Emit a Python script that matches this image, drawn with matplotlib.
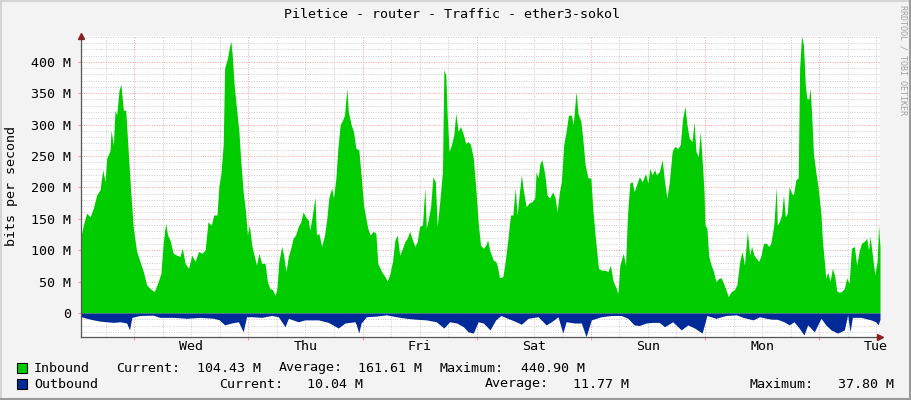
import matplotlib
matplotlib.use("Agg")
import matplotlib.pyplot as plt
import numpy as np
from matplotlib.lines import Line2D
from matplotlib.patches import Rectangle

# traffic, hours since start of window, Mbit/s
in_hours = [0, 0.49, 1.19, 1.9, 2.6, 3.3, 4.0, 4.57, 5.06, 5.4, 6.1, 6.32, 6.8, 7.16, 7.5, 8.0, 8.4, 8.9, 9.4, 9.97,
            10.46, 11.0, 11.7, 12.4, 13.1, 13.8, 14.5, 15.4, 16.1, 16.8, 17.3, 17.8, 18.2, 18.7, 19.4, 20.1, 20.8, 21.3,
            21.9, 22.6, 23.3, 24.0, 24.7, 25.4, 26.1, 26.7, 27.4, 27.9, 28.6, 29.0,
            29.4, 29.9, 30.2, 30.8, 31.3, 31.5, 31.8, 32.2, 32.7, 33.2, 33.6, 34.1, 34.6, 35.0, 35.4, 35.9, 36.4, 36.9,
            37.4, 38.0, 38.7, 39.2, 39.7, 40.3, 40.8, 41.2, 41.6, 42.2, 42.6, 43.1, 43.6, 44.1, 44.6, 45.1, 45.7, 46.2,
            46.7, 47.2, 47.8, 48.1, 48.6, 49.2, 49.5, 50.0, 50.6, 51.2, 51.7, 52.1, 52.7, 53.1, 53.6, 54.0, 54.5, 55.0,
            55.4, 55.9, 56.2, 56.8, 57.3, 57.8,
            58.4, 58.9, 59.4, 59.9, 60.3, 60.8, 61.4, 62.0, 62.4, 63.2, 63.9, 64.4, 64.9, 65.5, 66.0, 66.5, 67.0, 67.6,
            68.1, 68.6, 69.1, 69.7, 70.2, 70.7, 71.2, 71.8, 72.3, 72.6, 73.0, 73.5, 74.0, 74.5, 74.9, 75.4, 76.0, 76.3,
            76.7, 77.0, 77.4, 77.9, 78.4, 78.8, 79.3, 79.8, 80.4, 80.9, 81.4, 81.9, 82.5, 83.0, 83.5, 84.0, 84.6, 85.1,
            85.5, 86.0, 86.7,
            87.2, 87.5, 88.0, 88.7, 89.2, 89.7, 90.3, 90.8, 91.3, 91.7, 92.2, 92.6, 93.0, 93.6, 94.2, 94.8, 95.4, 95.7,
            96.1, 96.5, 96.9, 97.5, 98.0, 98.5, 99.2, 99.7, 100.1, 100.6, 101.0, 101.5, 102.0, 102.5, 103.1, 103.5,
            104.1, 104.5, 105.1, 105.5, 106.0, 106.6, 107.2, 107.6, 108.1, 108.8, 109.5, 110.2, 110.8, 111.3, 111.9,
            112.4, 112.9, 113.3, 114.0, 114.5, 114.9, 115.4, 115.9,
            116.3, 116.8, 117.4, 118.0, 118.7, 119.2, 119.6, 120.1, 120.6, 121.0, 121.6, 122.2, 122.7, 123.2, 123.7,
            124.3, 124.8, 125.5, 126.0, 126.5, 127.0, 127.4, 127.9, 128.5, 128.9, 129.3, 129.8, 130.2, 130.6, 131.0,
            131.2, 131.6, 132.0, 132.5, 133.0, 133.5, 134.1, 134.6, 135.1, 135.6, 136.1, 136.7, 137.4, 137.9, 138.5,
            139.0, 139.5, 140.1, 140.6, 141.0, 141.5, 142.0, 142.5, 143.0, 143.5, 144.1, 144.6,
            145.0, 145.4, 145.7, 146.2, 146.4, 146.8, 147.3, 147.7, 148.1, 148.5, 148.9, 149.4, 149.8, 150.3, 150.8,
            151.1, 151.5, 151.9, 152.3, 152.6, 153.0, 153.3, 153.6, 154.0, 154.5, 155.0, 155.6, 155.9, 156.3, 156.6,
            157.0, 157.5, 158.0, 158.5, 158.9, 159.4, 159.9, 160.5, 161.0, 161.5, 162.0, 162.6, 163.1, 163.6, 164.1,
            164.7, 165.2, 165.6, 165.9, 166.4, 166.9, 167.4, 167.7, 168.0]
inbound = [122, 140, 159, 153, 167, 188, 196, 228, 209, 246, 259, 291, 267, 323, 315, 355, 364, 323, 323, 252,
           193, 135, 98, 82, 66, 45, 39, 34, 47, 63, 113, 143, 124, 116, 95, 92, 90, 103,
           79, 71, 92, 82, 98, 95, 100, 145, 140, 156, 156, 203,
           220, 268, 390, 406, 427, 433, 411, 363, 326, 289, 241, 193, 161, 124, 140, 108, 92, 76,
           95, 79, 79, 50, 39, 37, 28, 39, 82, 106, 92, 66, 90, 103, 119, 124, 138, 145,
           161, 153, 148, 132, 153, 185, 124, 127, 106, 124, 151, 183, 199, 183, 215, 262, 300, 307,
           315, 358, 321, 300, 289, 262,
           260, 220, 172, 151, 135, 124, 130, 127, 79, 66, 58, 51, 61, 82, 116, 124, 92, 103,
           114, 119, 130, 116, 106, 114, 138, 140, 199, 135, 148, 169, 217, 209, 138, 175, 225, 387,
           379, 315, 257, 268, 284, 318, 289, 297, 284, 270, 273, 268, 246, 199, 145, 108, 103, 108,
           116, 98, 84,
           82, 76, 56, 58, 82, 114, 156, 156, 199, 156, 193, 220, 196, 169, 175, 177, 183, 225,
           215, 238, 244, 222, 188, 183, 193, 183, 161, 193, 209, 268, 289, 315, 315, 300,
           353, 318, 305, 278, 236, 215, 215, 167, 124, 71, 68, 68, 66, 76, 50,
           42, 31, 76, 95, 76, 156, 207, 209,
           193, 204, 217, 209, 222, 207, 230, 220, 228, 220, 225, 244, 209, 183, 209,
           257, 265, 262, 268, 310, 329, 300, 278, 273, 305, 257, 249, 289, 244, 193,
           140, 135, 90, 76, 66, 50, 55, 56, 47, 37, 26, 34, 37, 45, 82,
           98, 76, 130, 92, 106, 92, 87, 82, 92, 111, 111, 106,
           110, 127, 143, 201, 140, 145, 156, 188, 153, 159, 201, 191, 188, 212, 215,
           390, 440.9, 427, 363, 342, 340, 358, 321, 254, 225, 199, 156, 114, 82, 55,
           65, 51, 71, 58, 35, 33, 34, 39, 56, 47, 103, 106, 76, 98, 111,
           114, 119, 100, 122, 92, 61, 82, 140, 104.43]

out_hours = [0, 1.2, 2.6, 4.0, 5.4, 6.8, 8.2, 9.6, 10.2, 10.7, 12.4, 15.2, 16.6, 19.4, 22.3, 25.1, 27.9, 29.1,
             30.2, 31.6, 33.1, 34.1, 34.8, 35.9, 38.0, 40.1, 41.5, 42.9, 43.6, 45.7, 47.1, 48.5, 49.9, 52.0, 54.1,
             55.5, 57.6,
             57.9, 58.4, 58.9, 60.0, 62.1, 64.2, 66.3, 68.4, 70.5, 72.6, 74.7, 76.3, 77.5, 79.0, 80.4, 81.4, 82.5,
             83.5, 84.6, 86.0, 87.2,
             88.3, 89.7, 91.2, 92.6, 94.0, 96.1, 97.8, 98.9, 100.3, 101.3, 102.0, 103.8, 105.2, 106.2, 107.3, 109.4,
             111.5, 113.6, 115.0, 116.3,
             117.4, 118.8, 120.2, 121.6, 122.7, 124.4, 126.2, 127.6, 129.0, 130.6, 131.6, 133.5, 135.6, 137.8, 139.2,
             141.3, 142.7, 144.1, 145.3,
             146.4, 147.8, 148.9, 149.9, 151.0, 152.0, 152.8, 154.2, 155.6, 156.6, 157.7, 159.1, 160.5, 161.2, 161.7,
             162.2, 164.0, 166.1, 167.1, 167.6, 168.0]
outbound = [6, 8.5, 11, 13, 14, 15, 14, 16, 27, 7, 4, 3.5, 7, 7, 8.5, 7, 8.5, 11,
            19, 16, 14, 30, 6, 6, 7, 4, 6, 22, 8.5, 14, 11, 11, 11, 15, 24,
            16, 14,
            19, 32, 16, 6, 5, 3, 6, 8.5, 10, 11, 14, 24, 14, 16, 22, 30, 32,
            14, 16, 27, 11,
            4, 8.5, 13, 18, 8.5, 6, 19, 14, 6, 32, 14, 16, 16, 37.8, 11, 6,
            4, 4, 8.5, 19,
            20, 16, 15, 15, 22, 14, 27, 19, 24, 32, 4, 8.5, 4, 3, 7,
            11, 6, 8.5, 10,
            10, 14, 19, 14, 24, 35, 19, 30, 8.5, 19, 27, 32, 27, 3, 30,
            7, 7, 11, 14, 19, 10.04]

day_names = ["Wed", "Thu", "Fri", "Sat", "Sun", "Mon", "Tue"]
first_midnight = 11.2  # hours after graph start

title = "Piletice - router - Traffic - ether3-sokol"
in_stats = ["104.43 M", "161.61 M", "440.90 M"]
out_stats = ["10.04 M", "11.77 M", "37.80 M"]

W, H = 911, 400
BG = "#F3F3F3"
GREEN = "#00CC00"
BLUE = "#002A97"
MONO = "DejaVu Sans Mono"
FS = 9.6

fig = plt.figure(figsize=(W / 100, H / 100), dpi=100, facecolor=BG)

def fx(x):
    return x / W

def fy(y):
    return 1 - y / H

left, right, top, bottom = 81, 880, 36.1, 336.7
ax = fig.add_axes([fx(left), fy(bottom), fx(right) - fx(left), fy(top) - fy(bottom)])
ax.set_facecolor("white")

ax.fill_between(in_hours, 0, inbound, color=GREEN, lw=0, zorder=3)
ax.fill_between(out_hours, 0, -np.array(outbound), color=BLUE, lw=0, zorder=3)

ax.set_xlim(0, 168)
ax.set_ylim(-37.8, 440.9)

# grid
dot = (0, (1, 1.5))
for v in np.arange(-30, 441, 10):
    if v % 50 == 0:
        continue
    ax.axhline(v, color="#CCCCCC", lw=0.7, ls=dot, zorder=1)
for v in np.arange(0, 441, 50):
    ax.axhline(v, color="#F4A0A0", lw=0.7, ls=dot, zorder=2)
midnights = [first_midnight + 24 * k for k in range(7)]
for h in np.arange(first_midnight - 6, 168, 6):
    if any(abs(h - m) < 0.01 for m in midnights):
        continue
    ax.axvline(h, color="#CCCCCC", lw=0.7, ls=dot, zorder=1)
for m in midnights:
    ax.axvline(m, color="#F4A0A0", lw=0.7, ls=dot, zorder=2)

# axes
for s in ["top", "right"]:
    ax.spines[s].set_visible(False)
for s in ["left", "bottom"]:
    ax.spines[s].set_color("#555555")
    ax.spines[s].set_linewidth(0.9)
    ax.spines[s].set_zorder(5)
ax.plot([0], [440.9], marker="^", ms=5, color="#8B2020", clip_on=False, zorder=6,
        transform=ax.transData)
ax.plot([1.0], [0], marker=">", ms=5, color="#8B2020", clip_on=False, zorder=6,
        transform=ax.transAxes)

yt = list(range(0, 401, 50))
ax.set_yticks(yt)
ax.set_yticklabels(["0"] + ["%d M" % v for v in yt[1:]], fontfamily=MONO, fontsize=FS)
ax.tick_params(axis="y", length=2, color="#F4A0A0", pad=5)
ax.set_xticks(midnights)
ax.set_xticklabels([])
ax.tick_params(axis="x", length=2, color="#F4A0A0")

for k, name in enumerate(day_names):
    ax.text(first_midnight + 12 + 24 * k, -0.033, name, transform=ax.get_xaxis_transform(),
            ha="center", va="center", fontfamily=MONO, fontsize=FS, color="black")

fig.text(fx(12), fy(186), "bits per second", rotation=90, ha="center", va="center",
         fontfamily=MONO, fontsize=FS)

fig.text(fx(452), fy(15), title, ha="center", va="center", fontfamily=MONO, fontsize=FS)
fig.text(fx(903), fy(5), "RRDTOOL / TOBI OETIKER", rotation=-90, ha="center", va="top",
         fontfamily=MONO, fontsize=6, color="#A0A0A0")

# legend
rows = [(368, GREEN, "Inbound", in_stats, [116, 197, 279, 358, 440, 521]),
        (384, BLUE, "Outbound", out_stats, [219, 307, 485, 573, 750, 838])]
labels = ["Current:", "Average:", "Maximum:"]
for y, col, name, stats, xs in rows:
    fig.add_artist(Rectangle((fx(17), fy(y + 5)), 10 / W, 10 / H, transform=fig.transFigure,
                             facecolor=col, edgecolor="black", lw=0.8))
    fig.text(fx(34), fy(y), name, ha="left", va="center", fontfamily=MONO, fontsize=FS)
    for i in range(3):
        fig.text(fx(xs[2 * i]), fy(y), labels[i], ha="left", va="center", fontfamily=MONO, fontsize=FS)
        fig.text(fx(xs[2 * i + 1]), fy(y), stats[i], ha="left", va="center", fontfamily=MONO, fontsize=FS)

# rrdtool style frame
fig.add_artist(Line2D([0, 1], [fy(1), fy(1)], transform=fig.transFigure, color="#D4D4D4", lw=1.5))
fig.add_artist(Line2D([fx(1), fx(1)], [0, 1], transform=fig.transFigure, color="#D4D4D4", lw=1.5))
fig.add_artist(Line2D([0, 1], [fy(398.5), fy(398.5)], transform=fig.transFigure, color="#9A9A9A", lw=1.5))
fig.add_artist(Line2D([fx(909.5), fx(909.5)], [0, 1], transform=fig.transFigure, color="#9A9A9A", lw=1.5))

fig.savefig("out.png", dpi=100, facecolor=BG)
